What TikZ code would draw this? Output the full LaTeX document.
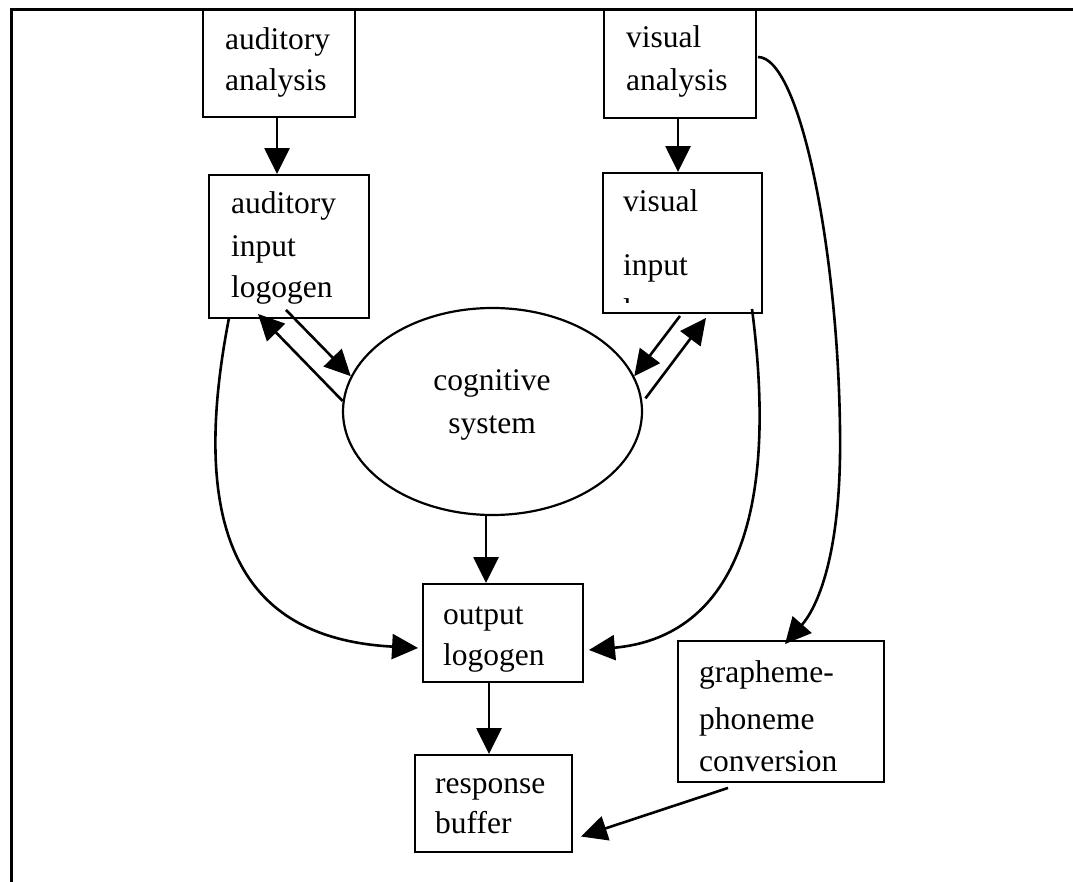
\documentclass[tikz,border=0pt]{standalone}
\usepackage{fontspec}
\setmainfont{Liberation Serif}
\usetikzlibrary{arrows.meta,shapes.geometric}
\begin{document}
\begin{tikzpicture}[x=1pt,y=-1pt,
  box/.style={draw,line width=1.9pt,inner sep=0pt},
  lbl/.style={anchor=base west,inner sep=0pt,font=\fontsize{31.5}{40}\selectfont},
  clbl/.style={anchor=base,inner sep=0pt,font=\fontsize{31.5}{40}\selectfont},
  arr/.style={line width=2.6pt,-{Triangle[length=26pt,width=25pt]}},
  frame/.style={line width=2.8pt}
]
\useasboundingbox (0,0) rectangle (1073,882);
% frame
\draw[frame] (1073,9.5) -- (11.5,9.5) -- (11.5,882);

% boxes
\node[box,minimum width=152pt,minimum height=107pt] (aa) at (279,63.5) {};
\node[box,minimum width=160pt,minimum height=143pt] (ail) at (289,246.5) {};
\node[box,minimum width=152pt,minimum height=108pt] (va) at (680,64) {};
\node[box,minimum width=159pt,minimum height=140pt] (vil) at (682.5,243) {};
\node[ellipse,draw,line width=2.2pt,inner sep=0pt,minimum width=299pt,minimum height=207pt] (cog) at (492.5,411.5) {};
\node[box,minimum width=160pt,minimum height=98pt] (ol) at (503,633) {};
\node[box,minimum width=157pt,minimum height=97pt] (rb) at (493.5,803.5) {};
\node[box,minimum width=206pt,minimum height=141pt] (gpc) at (781,711.5) {};

% texts
\node[lbl] (aat1) at (225,50) {auditory};
\node[lbl] (aat2) at (225,90.5) {analysis};
\node[lbl] (ailt1) at (231,213.5) {auditory};
\node[lbl] (ailt2) at (231,257) {input};
\node[lbl] (ailt3) at (231,298) {logogen};
\node[lbl] (vat1) at (626,48) {visual};
\node[lbl] (vat2) at (626,90.5) {analysis};
\node[lbl] (vilt1) at (623,212) {visual};
\node[lbl] (vilt2) at (623,276) {input};
\begin{scope}
  \clip (600,280) rectangle (770,303);
  \node[lbl] (vilt3) at (623,321) {logogen};
\end{scope}
\node[clbl] (cogt1) at (492,390) {cognitive};
\node[clbl] (cogt2) at (492,433) {system};
\node[lbl] (olt1) at (443,624.5) {output};
\node[lbl] (olt2) at (443,665) {logogen};
\node[lbl] (rbt1) at (435,793) {response};
\node[lbl] (rbt2) at (435,833) {buffer};
\node[lbl] (gpct1) at (699,682) {grapheme-};
\node[lbl] (gpct2) at (699,729) {phoneme};
\node[lbl] (gpct3) at (699,771) {conversion};

% straight connectors
\draw[arr] ([xshift=-2pt]aa.south) -- ([xshift=-2pt]aa.south |- ail.north);
\draw[arr] ([xshift=-2pt]va.south) -- ([xshift=-2pt]va.south |- vil.north);
\draw[arr] ([shift={(-3,-9)}]ail.south) -- (cog.166);
\draw[arr] (cog.176) -- ([shift={(-31,-5)}]ail.south);
\draw[arr] ([shift={(-2.5,2)}]vil.south) -- (cog.14);
\draw[arr] ([shift={(3.5,0)}]cog.5) -- ([shift={(23.5,4)}]vil.south);
\draw[arr] ([xshift=-6.5pt]cog.south) -- ([xshift=-6.5pt]cog.south |- ol.north);
\draw[arr] ([xshift=-14pt]ol.south) -- ([xshift=-14pt]ol.south |- rb.north);
\draw[arr] ([shift={(-53,5)}]gpc.south) -- ([shift={(8,33)}]rb.east);

% curved connectors
\draw[arr] ([shift={(-60,-1)}]ail.south) .. controls (180,570) and (270,640) .. ([shift={(-4,15)}]ol.west);
\draw[arr] ([shift={(69.5,-5)}]vil.south) .. controls (786,570) and (700,640) .. ([shift={(5,17)}]ol.east);
\draw[arr] ([shift={(1,-7)}]va.east) .. controls (800,57) and (838,250) .. (840,430)
  .. controls (842,560) and (815,610) .. ([shift={(4,4)}]gpc.north);
\end{tikzpicture}
\end{document}
